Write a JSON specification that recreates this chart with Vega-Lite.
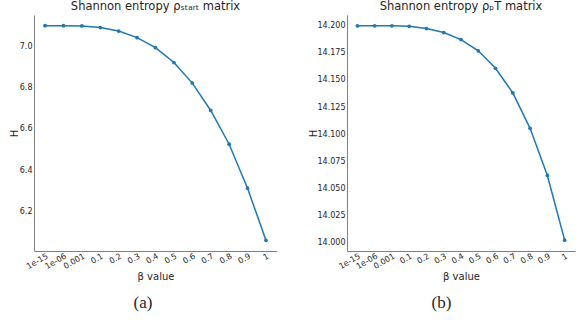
{
  "$schema": "https://vega.github.io/schema/vega-lite/v6.json",
  "background": "white",
  "padding": {"left": 9, "top": 0, "right": 4, "bottom": 0},
  "datasets": {
    "a": [
      {"beta": "1e-15", "H": 7.102},
      {"beta": "1e-06", "H": 7.102},
      {"beta": "0.001", "H": 7.101},
      {"beta": "0.1", "H": 7.093},
      {"beta": "0.2", "H": 7.076},
      {"beta": "0.3", "H": 7.044},
      {"beta": "0.4", "H": 6.995},
      {"beta": "0.5", "H": 6.923},
      {"beta": "0.6", "H": 6.823},
      {"beta": "0.7", "H": 6.690},
      {"beta": "0.8", "H": 6.526},
      {"beta": "0.9", "H": 6.312},
      {"beta": "1", "H": 6.059}
    ],
    "b": [
      {"beta": "1e-15", "H": 14.2000},
      {"beta": "1e-06", "H": 14.2000},
      {"beta": "0.001", "H": 14.2000},
      {"beta": "0.1", "H": 14.1995},
      {"beta": "0.2", "H": 14.1975},
      {"beta": "0.3", "H": 14.1938},
      {"beta": "0.4", "H": 14.1873},
      {"beta": "0.5", "H": 14.1769},
      {"beta": "0.6", "H": 14.1608},
      {"beta": "0.7", "H": 14.1380},
      {"beta": "0.8", "H": 14.1053},
      {"beta": "0.9", "H": 14.0618},
      {"beta": "1", "H": 14.0020}
    ]
  },
  "config": {
    "view": {"stroke": null},
    "font": "DejaVu Sans",
    "axis": {
      "grid": false,
      "domainColor": "#808080",
      "domainWidth": 1,
      "ticks": false,
      "labelColor": "#262626",
      "labelFontSize": 8,
      "labelFont": "DejaVu Sans",
      "titleFont": "DejaVu Sans",
      "titleFontSize": 10,
      "titleFontWeight": "normal",
      "titleColor": "#262626"
    },
    "title": {"font": "DejaVu Sans", "fontSize": 11.5, "fontWeight": "normal", "color": "#262626"},
    "concat": {"spacing": 31}
  },
  "hconcat": [
    {
      "title": {"text": "(a)", "orient": "bottom", "font": "Liberation Serif", "fontSize": 17, "offset": 14, "anchor": "middle"},
      "vconcat": [
        {
          "width": 243,
          "height": 236,
          "title": {"text": "Shannon entropy ρₛₜₐᵣₜ matrix", "offset": 3},
          "data": {"name": "a"},
          "encoding": {
            "x": {
              "field": "beta", "type": "ordinal", "sort": null,
              "scale": {"type": "point", "padding": 0.6},
              "axis": {"title": "β value", "labelAngle": -30, "labelPadding": 1, "titlePadding": 1}
            },
            "y": {
              "field": "H", "type": "quantitative",
              "scale": {"domain": [6.007, 7.154], "nice": false, "zero": false},
              "axis": {"title": "H", "values": [6.2, 6.4, 6.6, 6.8, 7.0], "format": ".1f", "labelPadding": 2, "titlePadding": -1, "minExtent": 16, "maxExtent": 16}
            }
          },
          "layer": [
            {"mark": {"type": "line", "color": "#1f77b4", "strokeWidth": 1.5}},
            {"mark": {"type": "point", "filled": true, "color": "#1f77b4", "size": 14, "opacity": 1}}
          ]
        }
      ]
    },
    {
      "title": {"text": "(b)", "orient": "bottom", "font": "Liberation Serif", "fontSize": 17, "offset": 14, "anchor": "middle"},
      "vconcat": [
        {
          "width": 228,
          "height": 236,
          "title": {"text": "Shannon entropy ρₚT matrix", "offset": 3},
          "data": {"name": "b"},
          "encoding": {
            "x": {
              "field": "beta", "type": "ordinal", "sort": null,
              "scale": {"type": "point", "padding": 0.6},
              "axis": {"title": "β value", "labelAngle": -30, "labelPadding": 1, "titlePadding": 1}
            },
            "y": {
              "field": "H", "type": "quantitative",
              "scale": {"domain": [13.992, 14.210], "nice": false, "zero": false},
              "axis": {"title": "H", "values": [14.0, 14.025, 14.05, 14.075, 14.1, 14.125, 14.15, 14.175, 14.2], "format": ".3f", "labelPadding": 2, "titlePadding": -3, "minExtent": 32, "maxExtent": 32}
            }
          },
          "layer": [
            {"mark": {"type": "line", "color": "#1f77b4", "strokeWidth": 1.5}},
            {"mark": {"type": "point", "filled": true, "color": "#1f77b4", "size": 14, "opacity": 1}}
          ]
        }
      ]
    }
  ]
}
